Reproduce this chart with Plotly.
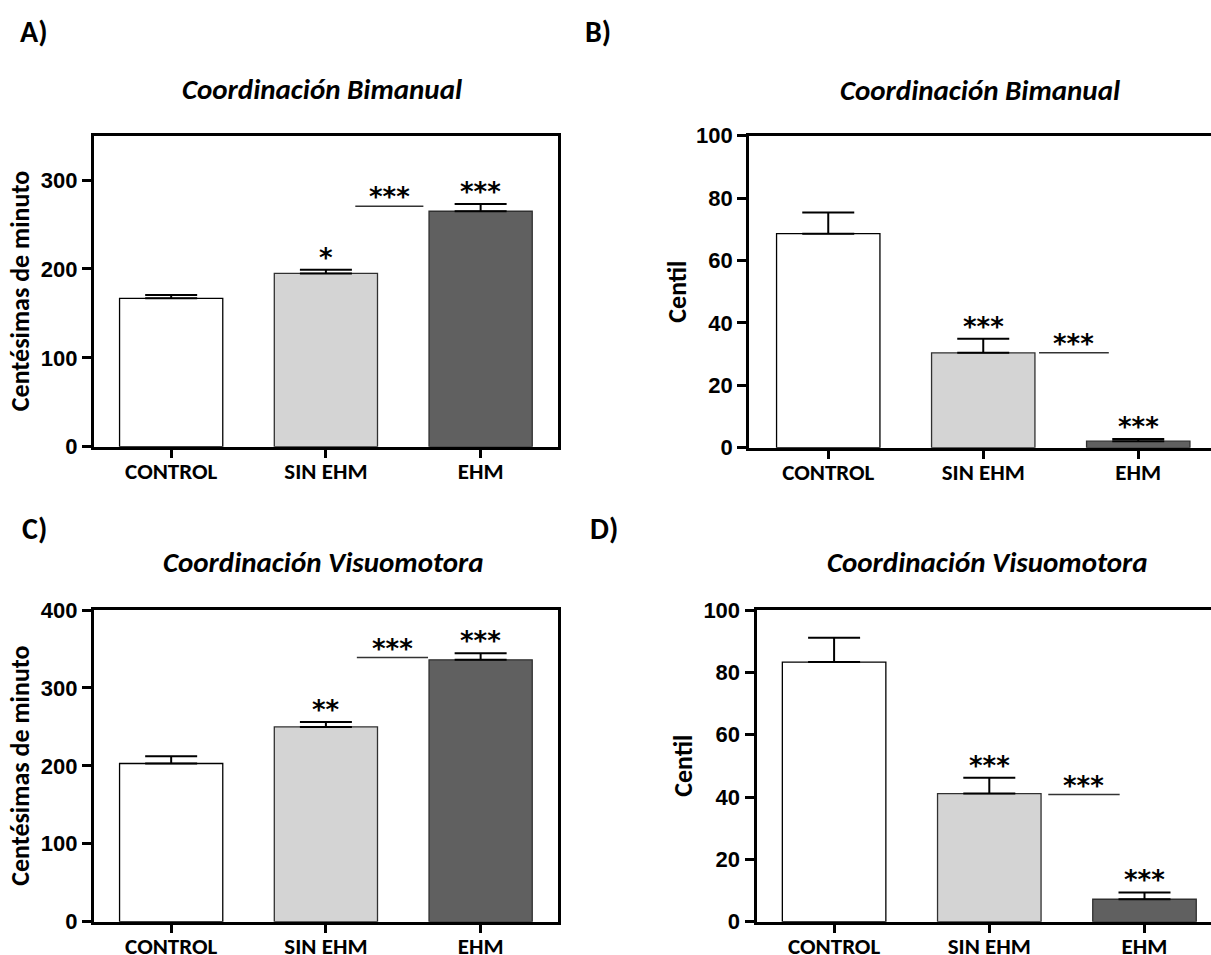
import plotly.graph_objects as go

# ---- data -------------------------------------------------------------
groups = ["CONTROL", "SIN EHM", "EHM"]

bimanual_time = [167, 195, 265]          # A) centésimas de minuto
bimanual_time_err = [3.7, 4.0, 8.0]
bimanual_centil = [68.6, 30.4, 2.1]      # B) centil
bimanual_centil_err = [6.8, 4.5, 0.7]
visuo_time = [203, 250, 336]             # C) centésimas de minuto
visuo_time_err = [9.4, 6.4, 8.4]
visuo_centil = [83.3, 41.1, 7.2]         # D) centil
visuo_centil_err = [7.8, 5.1, 2.2]

stars_bimanual_time = ["", "*", "***"]
stars_bimanual_centil = ["", "***", "***"]
stars_visuo_time = ["", "**", "***"]
stars_visuo_centil = ["", "***", "***"]
bracket_stars = "***"

bar_colors = ["#ffffff", "#d4d4d4", "#606060"]
bar_edges = ["#000000", "#303030", "#303030"]

W, H = 1211, 955
NUM_FONT = "Liberation Sans Narrow, Arial Narrow, Liberation Sans, Arial"
TXT_FONT = "Carlito, Calibri, Lato, Open Sans, sans-serif"
STAR_FONT = "DejaVu Sans, Liberation Sans, sans-serif"


def fx(px):
    return px / W


def fy(py):
    return 1 - py / H


panels = [
    dict(key="", vals=bimanual_time, errs=bimanual_time_err, stars=stars_bimanual_time,
         xd=(93.8, 558), yd=(135.7, 446.7), xr=(-0.5, 2.5), yr=(0, 350),
         ticks=[0, 100, 200, 300], box=True, ytitle="Centésimas de minuto",
         title="Coordinación Bimanual", title_pos=(322, 89), letter="A)", letter_pos=(34, 32),
         ytitle_x=20, bracket=(1.19, 1.63, 270.5)),
    dict(key="2", vals=bimanual_centil, errs=bimanual_centil_err, stars=stars_bimanual_centil,
         xd=(749.2, W), yd=(135.7, 447.7), xr=(-0.51, -0.51 + (W - 749.2) / 155.0), yr=(0, 100),
         ticks=[0, 20, 40, 60, 80, 100], box=False, ytitle="Centil",
         title="Coordinación Bimanual", title_pos=(980, 90), letter="B)", letter_pos=(598, 32),
         ytitle_x=677, bracket=(1.36, 1.81, 30.4)),
    dict(key="3", vals=visuo_time, errs=visuo_time_err, stars=stars_visuo_time,
         xd=(93.8, 558), yd=(610, 921.7), xr=(-0.5, 2.5), yr=(0, 400),
         ticks=[0, 100, 200, 300, 400], box=True, ytitle="Centésimas de minuto",
         title="Coordinación Visuomotora", title_pos=(323, 562), letter="C)", letter_pos=(34, 528),
         ytitle_x=20, bracket=(1.2, 1.66, 339)),
    dict(key="4", vals=visuo_centil, errs=visuo_centil_err, stars=stars_visuo_centil,
         xd=(756.5, W), yd=(610, 921.7), xr=(-0.5, -0.5 + (W - 756.5) / 155.2), yr=(0, 100),
         ticks=[0, 20, 40, 60, 80, 100], box=False, ytitle="Centil",
         title="Coordinación Visuomotora", title_pos=(987, 562), letter="D)", letter_pos=(604, 528),
         ytitle_x=683, bracket=(1.38, 1.84, 40.8)),
]

fig = go.Figure()
annotations = []
shapes = []
layout = dict(
    width=W, height=H, margin=dict(l=0, r=0, t=0, b=0, autoexpand=False),
    paper_bgcolor="white", plot_bgcolor="white", showlegend=False,
)

for p in panels:
    k = p["key"]
    xa, ya = "x" + k, "y" + k
    fig.add_trace(go.Bar(
        x=list(range(len(groups))), y=p["vals"], xaxis=xa, yaxis=ya,
        width=0.667,
        marker=dict(color=bar_colors, line=dict(color=bar_edges, width=1.3)),
        error_y=dict(type="data", array=p["errs"], arrayminus=[0] * len(groups),
                     symmetric=False, color="#000000", thickness=2, width=26),
        hoverinfo="skip",
    ))
    layout["xaxis" + k] = dict(
        domain=[fx(p["xd"][0]), fx(p["xd"][1])], anchor=ya, range=list(p["xr"]),
        tickmode="array", tickvals=list(range(len(groups))), ticktext=groups,
        ticks="outside", ticklen=8, tickwidth=3, tickcolor="#000",
        ticklabelstandoff=-6,
        showline=True, linewidth=3, linecolor="#000", mirror=True,
        showgrid=False, zeroline=False, fixedrange=True, automargin=False,
        tickfont=dict(family=TXT_FONT, size=23, color="#000", weight="bold"),
    )
    layout["yaxis" + k] = dict(
        domain=[fy(p["yd"][1]), fy(p["yd"][0])], anchor=xa, range=list(p["yr"]),
        tickmode="array", tickvals=p["ticks"],
        ticks="outside", ticklen=9, tickwidth=3, tickcolor="#000",
        showline=True, linewidth=3, linecolor="#000", mirror=p["box"],
        showgrid=False, zeroline=False, fixedrange=True, automargin=False,
        tickfont=dict(family=NUM_FONT, size=22, color="#000", weight="bold"),
    )
    # significance marks above the error bars
    for i, s in enumerate(p["stars"]):
        if s:
            annotations.append(dict(
                x=i, y=p["vals"][i] + p["errs"][i], xref=xa, yref=ya,
                text=s, showarrow=False, yanchor="middle", yshift=12,
                font=dict(family=STAR_FONT, size=26, color="#000", weight="bold"),
            ))
    # comparison line between SIN EHM and EHM
    bx0, bx1, by = p["bracket"]
    shapes.append(dict(type="line", xref=xa, yref=ya, x0=bx0, x1=bx1, y0=by, y1=by,
                       line=dict(color="#333333", width=1.5)))
    annotations.append(dict(
        x=(bx0 + bx1) / 2, y=by, xref=xa, yref=ya, text=bracket_stars, showarrow=False,
        yanchor="middle", yshift=9,
        font=dict(family=STAR_FONT, size=26, color="#000", weight="bold"),
    ))
    # panel title, letter and y-axis title
    annotations.append(dict(
        x=fx(p["title_pos"][0]), y=fy(p["title_pos"][1]), xref="paper", yref="paper",
        text="<i>" + p["title"] + "</i>", showarrow=False, xanchor="center", yanchor="middle",
        font=dict(family=TXT_FONT, size=29, color="#000", weight="bold"),
    ))
    annotations.append(dict(
        x=fx(p["letter_pos"][0]), y=fy(p["letter_pos"][1]), xref="paper", yref="paper",
        text=p["letter"], showarrow=False, xanchor="center", yanchor="middle",
        font=dict(family=TXT_FONT, size=30, color="#000", weight="bold"),
    ))
    annotations.append(dict(
        x=fx(p["ytitle_x"]), y=fy((p["yd"][0] + p["yd"][1]) / 2), xref="paper", yref="paper",
        text=p["ytitle"], showarrow=False, textangle=-90, xanchor="center", yanchor="middle",
        font=dict(family=TXT_FONT, size=26, color="#000", weight="bold"),
    ))

layout["annotations"] = annotations
layout["shapes"] = shapes
fig.update_layout(**layout)
fig.write_html("out.html", config={"displayModeBar": False})
